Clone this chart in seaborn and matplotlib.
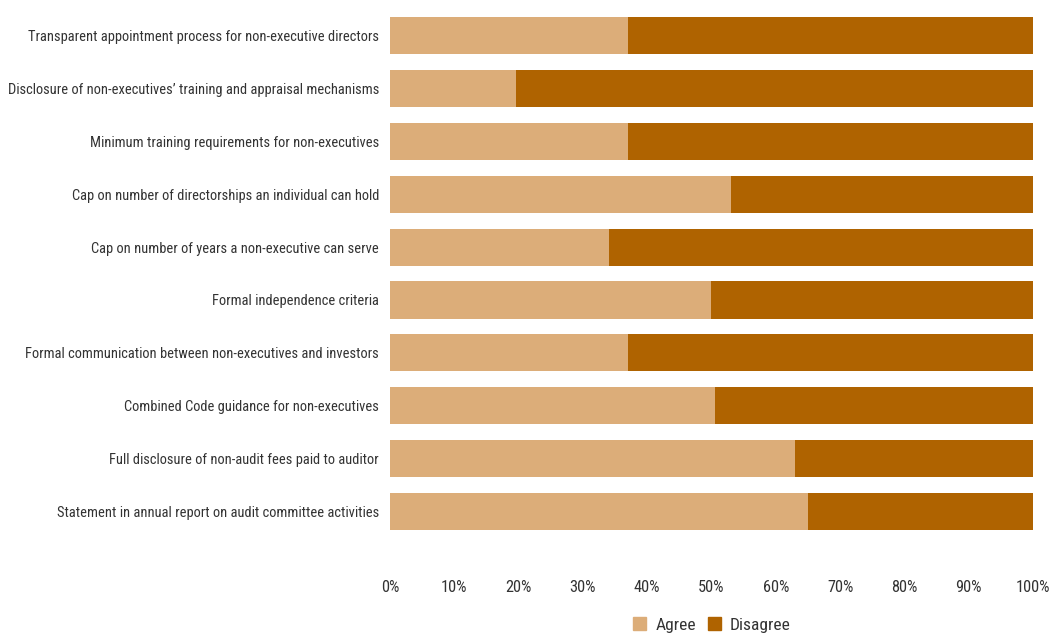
import matplotlib
matplotlib.use("Agg")
import matplotlib.pyplot as plt
from matplotlib.patches import Patch
from matplotlib.ticker import PercentFormatter
import seaborn as sns
import pandas as pd

categories = [
    "Transparent appointment process for non-executive directors",
    "Disclosure of non-executives\u2019 training and appraisal mechanisms",
    "Minimum training requirements for non-executives",
    "Cap on number of directorships an individual can hold",
    "Cap on number of years a non-executive can serve",
    "Formal independence criteria",
    "Formal communication between non-executives and investors",
    "Combined Code guidance for non-executives",
    "Full disclosure of non-audit fees paid to auditor",
    "Statement in annual report on audit committee activities",
]
agree = [37.0, 19.6, 37.0, 53.0, 34.1, 49.9, 37.0, 50.5, 63.0, 65.0]
disagree = [100 - a for a in agree]
ticks = [0, 10, 20, 30, 40, 50, 60, 70, 80, 90, 100]

AGREE_COLOR = "#DCAD79"
DISAGREE_COLOR = "#AF6300"
TEXT_COLOR = "#333333"

sns.set_theme(style="white")
plt.rcParams["font.family"] = ["Roboto Condensed", "DejaVu Sans"]

df = pd.DataFrame({"item": categories, "Agree": agree, "Disagree": disagree})
df["total"] = df["Agree"] + df["Disagree"]

fig = plt.figure(figsize=(10.49, 6.35), dpi=100)
W, H = 1049, 635
left, right = 390, 1033
top, bottom = 8, 565
ax = fig.add_axes([left / W, 1 - bottom / H, (right - left) / W, (bottom - top) / H])

sns.barplot(data=df, y="item", x="total", color=DISAGREE_COLOR, orient="h",
            width=0.7, saturation=1, ax=ax, linewidth=0)
sns.barplot(data=df, y="item", x="Agree", color=AGREE_COLOR, orient="h",
            width=0.7, saturation=1, ax=ax, linewidth=0)

ax.set_xlim(0, 100)
ax.set_ylim(10.01, -0.52)
ax.set_xticks(ticks)
ax.xaxis.set_major_formatter(PercentFormatter(decimals=0))
ax.set_xlabel("")
ax.set_ylabel("")
ax.tick_params(axis="both", length=0, colors=TEXT_COLOR)
ax.tick_params(axis="x", pad=11, labelsize=11.8)
ax.tick_params(axis="y", pad=8, labelsize=13)
for s in ax.spines.values():
    s.set_visible(False)

# shrink the category labels until the longest one fits the left margin
fig.canvas.draw()
renderer = fig.canvas.get_renderer()
labels = ax.get_yticklabels()
widest = max(t.get_window_extent(renderer).width for t in labels)
size = 13 * min(1.0, 370 / widest)
for t in labels:
    t.set_fontsize(size)

handles = [Patch(color=AGREE_COLOR, label="Agree"),
           Patch(color=DISAGREE_COLOR, label="Disagree")]
fig.legend(handles=handles, loc="center", bbox_to_anchor=(712 / W, 1 - 625 / H),
           ncol=2, frameon=False, fontsize=12.5, handlelength=0.75, handleheight=0.75,
           handletextpad=0.5, columnspacing=0.7, labelcolor=TEXT_COLOR,
           borderpad=0.2)

fig.savefig("out.png", dpi=100)
